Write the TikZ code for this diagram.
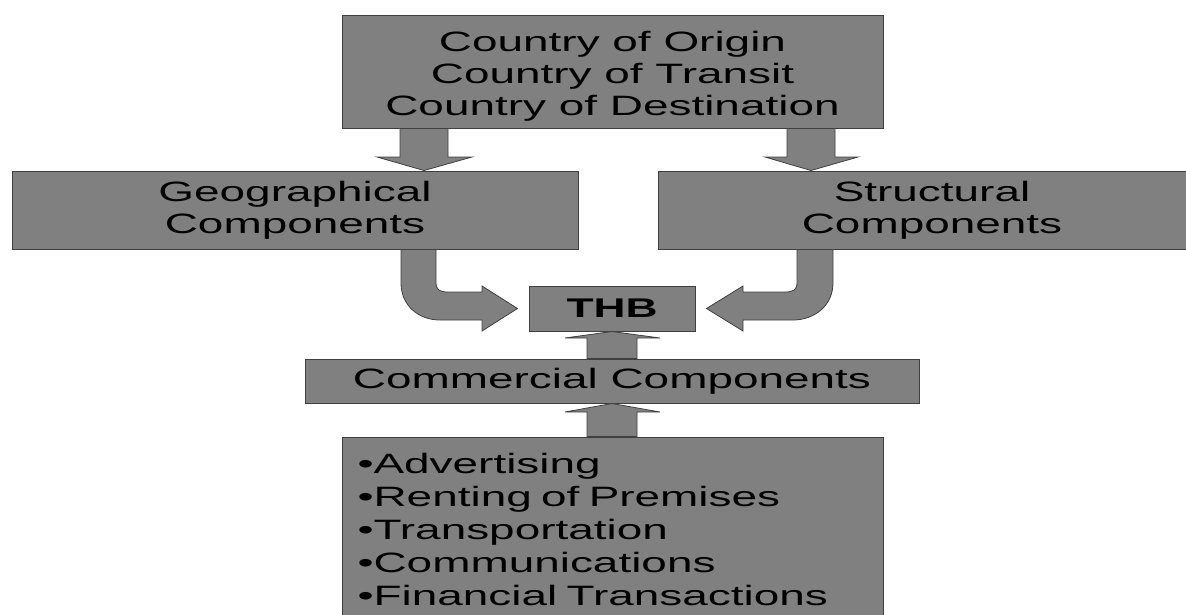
\documentclass[tikz,border=0pt]{standalone}
\usepackage{fontspec}
\usetikzlibrary{calc}
\newfontfamily\boxfont[FakeStretch=1.64]{Liberation Sans}
\definecolor{boxfill}{RGB}{128,128,128}
\definecolor{boxline}{RGB}{64,64,64}
\tikzset{
  compbox/.style={draw=boxline, fill=boxfill, line width=1pt, inner sep=0pt,
    align=center, text=black, font=\boxfont\fontsize{28}{32}\selectfont},
  blockarrow/.style={draw=boxline, fill=boxfill, line width=0.8pt, line join=miter}
}
\begin{document}
\begin{tikzpicture}[x=1pt,y=-1pt]
\useasboundingbox (0,0) rectangle (1186,614);

% boxes
\node[compbox, minimum width=541, minimum height=113] (origin) at (612.5,71.5)
  {\rule{0pt}{30pt}Country of Origin\\Country of Transit\\Country of Destination};
\node[compbox, minimum width=566, minimum height=78] (geo) at (295,210)
  {Geographical\\Components};
\node[compbox, minimum width=548, minimum height=78] (struct) at (932,210)
  {Structural\\Components};
\node[compbox, minimum width=166, minimum height=45,
  font=\boxfont\bfseries\fontsize{27}{30}\selectfont] (thb) at (612,308.5) {THB};
\node[compbox, minimum width=614, minimum height=44] (comm) at (612,381)
  {Commercial Components};
\node[compbox, minimum width=541, minimum height=184, align=left, text width=510,
  font=\boxfont\fontsize{28}{33}\selectfont] (acts) at (612.5,529)
  {\textbullet Advertising\\\textbullet Renting of Premises\\\textbullet Transportation\\
   \textbullet Communications\\\textbullet Financial Transactions};

% straight block arrows
\draw[blockarrow] (origin.south -| 400,0) -- (origin.south -| 448,0) -- (448,157) -- (472,157)
  -- (geo.north -| 424,0) -- (377,157) -- (400,157) -- cycle;
\draw[blockarrow] (origin.south -| 787,0) -- (origin.south -| 835,0) -- (835,157) -- (858,157)
  -- (struct.north -| 811,0) -- (765,157) -- (787,157) -- cycle;
\draw[blockarrow] (comm.north -| 587,0) -- (587,338) -- (565,338) -- (thb.south -| 612,0)
  -- (660,338) -- (637,338) -- (comm.north -| 637,0) -- cycle;
\draw[blockarrow] (acts.north -| 587,0) -- (587,412) -- (565,412) -- (comm.south -| 612,0)
  -- (660,412) -- (637,412) -- (acts.north -| 637,0) -- cycle;

% curved block arrows
\draw[blockarrow] (geo.south -| 401,0) -- (geo.south -| 436,0) -- (436,283)
  .. controls (436,290) and (440,292) .. (448,292) -- (482,292) -- (482,286)
  -- ([xshift=-11pt]thb.west) -- (482,331) -- (482,320) -- (440,320)
  .. controls (418,320) and (401,305) .. (401,283) -- cycle;
\draw[blockarrow] (struct.south -| 833,0) -- (struct.south -| 797,0) -- (797,283)
  .. controls (797,290) and (793,292) .. (785,292) -- (743,292) -- (743,286)
  -- ([xshift=11pt]thb.east) -- (743,331) -- (743,320) -- (793,320)
  .. controls (815,320) and (833,305) .. (833,283) -- cycle;
\end{tikzpicture}
\end{document}
